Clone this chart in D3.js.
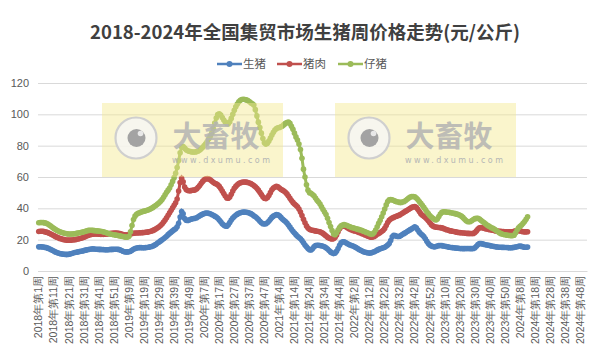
<!DOCTYPE html>
<html>
<head>
<meta charset="utf-8">
<script src="https://cdn.jsdelivr.net/npm/d3@7"></script>
<style>
  body { margin: 0; background: #fff; }
  svg { display: block; font-family: "Noto Sans CJK SC", "Noto Sans", sans-serif; }
</style>
</head>
<body>
<svg id="chart"></svg>
<script>
// 年份及每年周数
const years = [2018, 2019, 2020, 2021, 2022, 2023, 2024];
const weeksPerYear = [52, 52, 53, 52, 52, 52, 52];

// 生猪 (2018年第1周 起, 每周一个值)
const hog = [
  15.4,15.5,15.4,15.3,15.1,14.9,14.6,14.2,13.7,13.2, 12.7,12.2,11.8,11.4,11.1,10.9,10.8,10.7,10.6,10.6,
  10.7,10.9,11.2,11.5,11.8,12.0,12.2,12.4,12.6,12.8, 13.0,13.3,13.5,13.7,13.9,14.0,14.1,14.0,13.9,13.9,
  13.8,13.8,13.7,13.7,13.6,13.6,13.6,13.7,13.8,13.8,13.9,13.9,
  13.9,13.8,13.5,13.1,12.6,12.3,12.2,12.2,12.3,12.6, 13.2,13.9,14.4,14.7,14.8,14.9,14.9,14.8,14.8,14.9,
  15.0,15.2,15.4,15.6,16.0,16.5,17.1,17.8,18.5,19.2, 19.9,20.6,21.4,22.2,23.2,24.0,24.8,25.6,26.4,27.0,
  28.2,30.5,34.5,38.0,36.5,33.5,32.4,32.3,32.6,33.0,33.3,33.5,
  33.6,34.0,34.6,35.2,35.8,36.3,36.7,37.0,37.0,36.8, 36.5,36.1,35.6,35.0,34.4,33.6,32.6,31.4,30.2,29.3,
  28.7,28.6,29.5,31.0,32.6,33.8,34.8,35.6,36.3,36.8, 37.2,37.5,37.6,37.6,37.5,37.3,37.0,36.6,36.0,35.3,
  34.6,33.8,32.8,31.8,30.8,30.2,30.0,30.2,30.8,31.8, 33.0,34.2,35.0,
  35.6,36.0,35.8,35.2,34.2,33.2,32.4,31.6,30.6,29.4, 28.0,26.6,25.4,24.2,23.2,22.2,21.4,20.6,19.4,18.0,
  16.6,15.4,14.4,13.6,13.4,14.2,15.4,16.2,16.4,16.4, 16.3,16.1,15.8,15.4,14.8,14.0,13.1,12.2,11.5,11.1,
  11.4,12.6,14.4,16.4,18.0,18.6,18.6,18.2,17.6,17.0,16.6,16.3,
  16.0,15.5,14.9,14.3,13.7,13.2,12.7,12.3,12.0,11.7, 11.5,11.4,11.6,11.9,12.3,12.8,13.3,13.8,14.2,14.5,
  14.8,15.2,15.8,16.6,17.6,19.5,21.8,22.8,22.6,22.2, 22.0,22.2,22.8,23.4,24.0,24.6,25.2,25.8,26.4,27.0,
  27.6,28.2,27.6,26.2,24.8,23.8,23.0,22.0,20.6,19.0,17.6,16.6,
  16.0,15.6,15.4,15.6,15.9,16.2,16.3,16.2,16.0,15.8, 15.6,15.4,15.2,15.0,14.9,14.8,14.7,14.6,14.5,14.4,
  14.4,14.3,14.3,14.4,14.4,14.4,14.3,14.3,14.4,14.8, 15.8,16.9,17.5,17.6,17.3,17.0,16.8,16.6,16.4,16.2,
  16.0,15.8,15.6,15.4,15.3,15.2,15.2,15.1,15.1,15.0,15.0,14.9,
  14.8,14.8,14.9,15.1,15.3,15.5,15.8,16.0,15.7,15.4,15.2,15.2,15.3
];

// 猪肉
const pork = [
  25.2,25.4,25.4,25.3,25.1,24.8,24.5,24.1,23.6,23.1, 22.6,22.1,21.6,21.2,20.8,20.5,20.2,20.0,19.8,19.7,
  19.7,19.7,19.8,19.9,20.0,20.2,20.4,20.6,20.9,21.2, 21.6,22.0,22.4,22.8,23.1,23.3,23.5,23.6,23.6,23.6,
  23.5,23.4,23.4,23.4,23.5,23.6,23.7,23.9,24.0,24.1,24.2,24.2,
  24.2,24.1,23.9,23.6,23.3,23.1,23.0,23.1,23.3,23.6, 23.9,24.1,24.2,24.3,24.3,24.4,24.4,24.5,24.6,24.7,
  24.8,25.0,25.2,25.5,25.9,26.4,27.0,27.6,28.2,29.0, 30.0,31.2,32.6,34.0,35.6,37.2,38.8,40.4,42.0,43.5,
  46.0,51.0,56.5,59.2,57.0,53.6,52.0,51.4,51.2,51.3,51.5,51.6,
  51.8,52.4,53.4,54.6,56.0,57.2,58.2,58.8,59.0,58.8, 58.2,57.4,56.6,56.0,55.6,55.0,54.0,52.6,51.0,49.4,
  47.8,46.6,46.4,47.2,49.0,51.0,52.8,54.0,55.0,55.8, 56.3,56.6,56.8,56.8,56.7,56.5,56.2,55.8,55.2,54.6,
  53.8,52.8,51.6,50.2,48.8,47.4,46.4,46.2,46.8,48.2, 50.0,51.8,53.0,
  53.6,54.0,53.8,53.0,52.2,51.6,51.0,50.2,49.2,47.8, 46.4,45.0,43.8,42.8,42.0,41.0,39.6,37.6,35.4,33.0,
  30.8,28.8,27.4,26.6,26.2,26.0,25.8,25.6,25.4,25.2, 25.0,24.6,24.0,23.2,22.4,21.6,21.0,20.6,20.4,20.6,
  21.4,23.0,25.0,27.0,28.2,28.8,28.8,28.4,27.8,27.2,26.6,26.2,
  25.9,25.6,25.3,25.0,24.6,24.2,23.8,23.4,23.0,22.6, 22.2,21.8,21.6,21.7,22.1,22.7,23.4,24.0,24.6,25.2,
  26.0,27.2,29.0,31.0,32.4,33.2,33.8,34.2,34.6,35.0, 35.4,35.8,36.4,37.0,37.6,38.2,38.8,39.4,40.0,40.6,
  41.0,41.2,40.6,39.4,38.0,36.6,35.6,35.0,34.2,33.2,32.0,30.8,
  29.6,28.8,28.2,28.0,27.9,27.8,27.7,27.5,27.2,26.8, 26.4,26.1,25.8,25.6,25.4,25.2,25.0,24.8,24.6,24.5,
  24.4,24.3,24.2,24.1,24.0,24.0,23.9,23.9,24.0,24.6, 25.6,26.8,27.6,27.8,27.6,27.3,27.0,26.8,26.6,26.4,
  26.2,26.0,25.8,25.6,25.5,25.4,25.3,25.2,25.2,25.1,25.1,25.0,
  25.0,25.0,25.1,25.3,25.6,25.8,25.8,25.6,25.3,25.1,25.0,25.0,25.1
];

// 仔猪
const piglet = [
  30.8,31.0,31.0,30.9,30.7,30.4,30.0,29.4,28.7,27.9, 27.2,26.6,26.0,25.5,25.1,24.7,24.4,24.1,23.9,23.7,
  23.6,23.6,23.6,23.7,23.8,24.0,24.2,24.4,24.6,24.8, 25.1,25.4,25.7,25.9,26.0,26.0,25.9,25.8,25.7,25.6,
  25.5,25.4,25.2,25.0,24.7,24.4,24.1,23.8,23.5,23.3,23.1,22.9,
  22.8,22.6,22.4,22.2,22.0,21.8,21.6,21.5,22.2,25.0, 29.0,32.8,35.0,36.2,36.8,37.2,37.6,37.9,38.2,38.5,
  38.8,39.1,39.5,40.0,40.6,41.3,42.0,42.8,43.6,44.5, 45.6,47.0,48.6,50.2,51.6,53.0,55.0,57.2,59.6,62.4,
  66.0,70.5,75.5,79.2,79.4,78.4,77.4,76.8,76.4,76.2,76.0,76.0,
  76.0,76.2,76.6,77.2,78.0,79.0,80.0,81.2,82.6,84.2, 86.0,88.0,91.0,94.4,97.6,99.8,100.4,99.6,98.0,96.4,
  95.0,94.2,94.0,95.2,97.4,100.0,102.6,104.8,106.6,108.0, 109.0,109.5,109.6,109.5,109.2,108.8,108.2,107.4,106.8,106.0,
  103.0,99.0,95.0,91.6,88.0,84.6,81.8,81.0,81.6,83.0, 84.8,86.8,88.6,
  90.0,91.0,91.4,91.6,92.0,92.6,93.4,94.2,94.8,95.0, 94.2,92.4,90.5,88.0,85.6,83.6,81.0,77.6,72.0,65.0,
  60.0,55.0,51.6,50.0,49.6,48.8,48.0,46.6,45.2,44.0, 42.8,41.0,39.2,37.6,36.0,33.6,31.0,28.4,25.8,23.6,
  23.2,24.4,26.2,27.8,28.8,29.4,29.6,29.4,29.0,28.6,28.2,27.8,
  27.6,27.3,27.0,26.7,26.4,26.1,25.8,25.4,25.0,24.6, 24.2,23.8,23.4,23.6,24.6,26.2,28.2,30.4,32.4,34.6,
  37.0,39.6,42.2,44.4,45.4,45.6,45.4,45.0,44.6,44.2, 44.0,43.8,43.8,44.0,44.4,45.0,45.8,46.6,47.2,47.6,
  47.6,47.4,46.6,45.6,44.4,43.2,42.0,40.6,39.2,37.8,36.6,35.4,
  34.4,33.6,33.0,32.6,33.2,34.8,36.4,37.4,37.8,37.8, 37.6,37.5,37.4,37.2,37.0,36.8,36.6,36.3,36.0,35.6,
  35.0,34.2,33.2,32.2,31.6,31.4,31.6,32.2,32.8,33.4, 33.6,33.6,33.2,32.4,31.6,31.0,30.2,29.4,28.8,28.2,
  27.6,27.2,26.6,26.0,25.2,24.6,24.0,23.6,23.3,23.1,22.9,22.8,
  22.7,22.6,22.6,22.8,24.2,26.2,27.6,28.6,29.4,30.4,31.6,33.0,34.6
];

const yTicks = [0, 20, 40, 60, 80, 100, 120];
const seriesNames = ['生猪', '猪肉', '仔猪'];
const seriesColors = ['#4f81bd', '#c0504d', '#9bbb59'];
const titleText = '2018-2024年全国集贸市场生猪周价格走势(元/公斤)';

const categories = [];
years.forEach((yr, k) => {
  for (let w = 1; w <= weeksPerYear[k]; w++) categories.push(`${yr}年第${w}周`);
});
const tickLabels = categories.filter((d, i) => i % 10 === 0);

const width = 600, height = 352;
const margin = { top: 83, right: 13, bottom: 81, left: 38 };

const svg = d3.select('#chart').attr('width', width).attr('height', height);

const x = d3.scaleBand().domain(categories).range([margin.left, width - margin.right]);
const y = d3.scaleLinear().domain([0, 120]).range([height - margin.bottom, margin.top]);

// 标题
svg.append('text')
  .attr('x', 305).attr('y', 39)
  .attr('text-anchor', 'middle')
  .attr('font-size', '18.5px').attr('font-weight', 'bold')
  .attr('fill', '#404040')
  .text(titleText);

// 图例
const legend = svg.append('g').attr('transform', 'translate(217, 64)');
const legendX = [0, 60, 121];
seriesNames.forEach((name, k) => {
  const g = legend.append('g').attr('transform', `translate(${legendX[k]}, 0)`);
  g.append('line').attr('x1', 0).attr('x2', 25).attr('y1', 0).attr('y2', 0)
    .attr('stroke', seriesColors[k]).attr('stroke-width', 2.5);
  g.append('circle').attr('cx', 12.5).attr('cy', 0).attr('r', 3).attr('fill', seriesColors[k]);
  g.append('text').attr('x', 26).attr('y', 0).attr('dy', '0.35em')
    .attr('font-size', '11.5px').attr('fill', '#595959').text(name);
});

// y 轴与网格线
const yAxis = svg.append('g')
  .attr('transform', `translate(${margin.left}, 0)`)
  .call(d3.axisLeft(y).tickValues(yTicks).tickSize(-(width - margin.left - margin.right)).tickPadding(9));
yAxis.select('.domain').remove();
yAxis.selectAll('line').attr('stroke', '#d9d9d9');
yAxis.selectAll('text').attr('font-size', '11px').attr('fill', '#595959')
  .attr('font-family', '"Liberation Sans", "Noto Sans", sans-serif');

// x 轴
const xAxis = svg.append('g')
  .attr('transform', `translate(0, ${height - margin.bottom})`)
  .call(d3.axisBottom(x).tickValues(tickLabels).tickSize(0));
xAxis.select('.domain').attr('stroke', '#d9d9d9');
xAxis.selectAll('text')
  .attr('transform', 'rotate(-90)')
  .attr('text-anchor', 'end')
  .attr('x', -5).attr('y', 0).attr('dy', '0.35em')
  .attr('font-size', '10.5px').attr('fill', '#595959');

// 折线
const cx = (d, i) => x(categories[i]) + x.bandwidth() / 2;
const line = d3.line().x(cx).y(d => y(d));
[hog, pork, piglet].forEach((values, k) => {
  const g = svg.append('g');
  g.append('path').datum(values)
    .attr('fill', 'none').attr('stroke', seriesColors[k]).attr('stroke-width', 3)
    .attr('d', line);
  g.selectAll('circle').data(values).enter().append('circle')
    .attr('cx', cx).attr('cy', d => y(d)).attr('r', 2.8)
    .attr('fill', seriesColors[k]);
});

// 水印
[102, 335].forEach(wx => {
  const wm = svg.append('g').attr('transform', `translate(${wx}, 103)`);
  wm.append('rect').attr('width', 181).attr('height', 74)
    .attr('fill', '#f3e98e').attr('fill-opacity', 0.45);
  wm.append('circle').attr('cx', 34).attr('cy', 35).attr('r', 20.5)
    .attr('fill', '#f6f6f6').attr('fill-opacity', 0.8)
    .attr('stroke', '#cfcfcf').attr('stroke-width', 2.2);
  wm.append('circle').attr('cx', 34.5).attr('cy', 35).attr('r', 9).attr('fill', '#a3a3a3');
  wm.append('circle').attr('cx', 38.5).attr('cy', 30.5).attr('r', 2.8).attr('fill', '#e8e8e8');
  wm.append('text').attr('x', 114).attr('y', 44)
    .attr('text-anchor', 'middle').attr('font-size', '29px').attr('font-weight', 'bold')
    .attr('fill', '#b3b3b3').attr('fill-opacity', 0.85).text('大畜牧');
  wm.append('text').attr('x', 70).attr('y', 60)
    .attr('textLength', 98).attr('lengthAdjust', 'spacing')
    .attr('font-size', '8px').attr('fill', '#b5b5b5')
    .attr('font-family', '"DejaVu Sans", sans-serif').text('www.dxumu.com');
});
</script>
</body>
</html>
